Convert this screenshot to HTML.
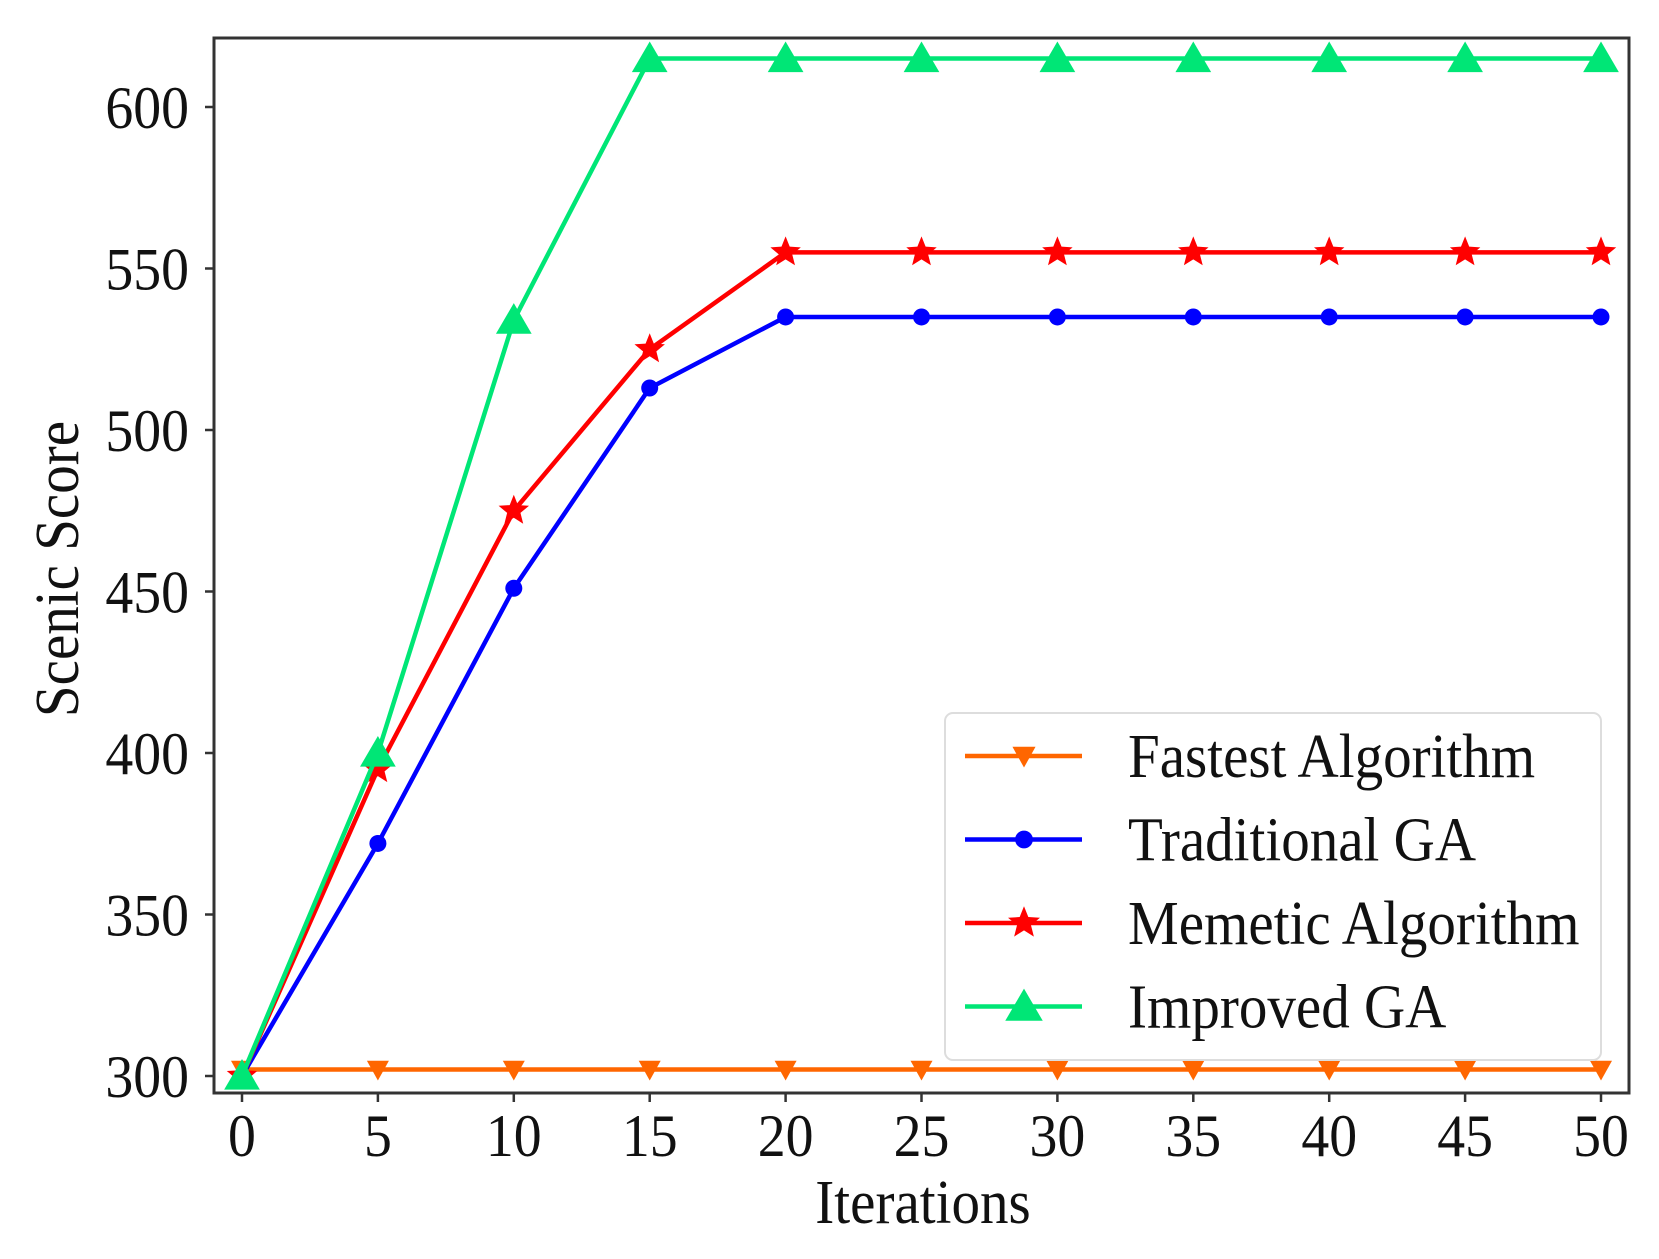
<!DOCTYPE html>
<html><head><meta charset="utf-8"><style>
html,body{margin:0;padding:0;background:#fff;}
svg{display:block;}
text{font-family:"Liberation Serif",serif;fill:#111;}
</style></head><body>
<svg id="s" width="1659" height="1259" viewBox="0 0 1659 1259" xmlns="http://www.w3.org/2000/svg">
<rect x="214" y="38" width="1415" height="1055" fill="#fff" stroke="#333" stroke-width="3"/>
<g id="ticks"></g>
<g id="series"></g>
<g transform="translate(78 569) rotate(-90) scale(0.92 1)"><text x="0" y="0" font-size="62" text-anchor="middle">Scenic Score</text></g>
<g transform="translate(923 1223) scale(0.92 1)"><text x="0" y="0" font-size="62" text-anchor="middle">Iterations</text></g>
<rect x="945" y="713" width="656" height="347" rx="8" fill="#fff" fill-opacity="0.85" stroke="#ddd" stroke-width="2"/>
<g id="legend"></g>
</svg>
<script>
var NS="http://www.w3.org/2000/svg";
function X(v){return 242+v*(1601-242)/50;}
function Y(v){return 1076-(v-300)*(1076-107)/300;}
function el(p,t,a,txt){var e=document.createElementNS(NS,t);for(var k in a)e.setAttribute(k,a[k]);if(txt!==undefined)e.textContent=txt;p.appendChild(e);return e;}
function txt(p,x,y,size,anchor,s,sx){var g=el(p,'g',{transform:'translate('+x+' '+y+') scale('+sx+' 1)'});el(g,'text',{x:0,y:0,'font-size':size,'text-anchor':anchor},s);}
var tk=document.getElementById('ticks');
for(var v=0;v<=50;v+=5){el(tk,'line',{x1:X(v),x2:X(v),y1:1093,y2:1102,stroke:'#333','stroke-width':2.5});
txt(tk,X(v),1156,60,'middle',String(v),0.93);}
for(var v=300;v<=600;v+=50){el(tk,'line',{x1:205,x2:214,y1:Y(v),y2:Y(v),stroke:'#333','stroke-width':2.5});
txt(tk,189,Y(v)+21,60,'end',String(v),0.93);}
var xs=[0,5,10,15,20,25,30,35,40,45,50];
function fill(a){while(a.length<11)a.push(a[a.length-1]);return a;}
var S=[
{c:'#ff6600',d:fill([302]),m:'vdown'},
{c:'#0000ff',d:fill([300,372,451,513,535]),m:'circle'},
{c:'#ff0000',d:fill([300,395,475,525,555]),m:'star'},
{c:'#00e676',d:fill([300,400,534,615]),m:'tri'}
];
function marker(g,t,x,y,c,s){
 if(t=='circle')el(g,'circle',{cx:x,cy:y,r:8.5*s,fill:c});
 else if(t=='tri'){var h=17*s;el(g,'polygon',{points:(x)+','+(y-h)+' '+(x+h*1.05)+','+(y+h*0.8)+' '+(x-h*1.05)+','+(y+h*0.8),fill:c});}
 else if(t=='vdown'){var h=11*s;el(g,'polygon',{points:(x-h)+','+(y-h*0.8)+' '+(x+h)+','+(y-h*0.8)+' '+x+','+(y+h),fill:c});}
 else{var p=[];for(var i=0;i<10;i++){var r=i%2?7*s:16*s;var a=-Math.PI/2+i*Math.PI/5;p.push((x+r*Math.cos(a))+','+(y+r*Math.sin(a)));}el(g,'polygon',{points:p.join(' '),fill:c});}
}
var sg=document.getElementById('series');
S.forEach(function(s){var pts=xs.map(function(v,i){return X(v)+','+Y(s.d[i]);}).join(' ');
el(sg,'polyline',{points:pts,fill:'none',stroke:s.c,'stroke-width':4.5});
xs.forEach(function(v,i){marker(sg,s.m,X(v),Y(s.d[i]),s.c,1);});});
var lg=document.getElementById('legend');
var names=['Fastest Algorithm','Traditional GA','Memetic Algorithm','Improved GA'];
S.forEach(function(s,i){var y=756+i*83.5;
el(lg,'line',{x1:965,x2:1082,y1:y,y2:y,stroke:s.c,'stroke-width':4.5});
marker(lg,s.m,1024,y,s.c,1.05);
txt(lg,1128,y+21,62,'start',names[i],0.92);});
</script>
</body></html>
